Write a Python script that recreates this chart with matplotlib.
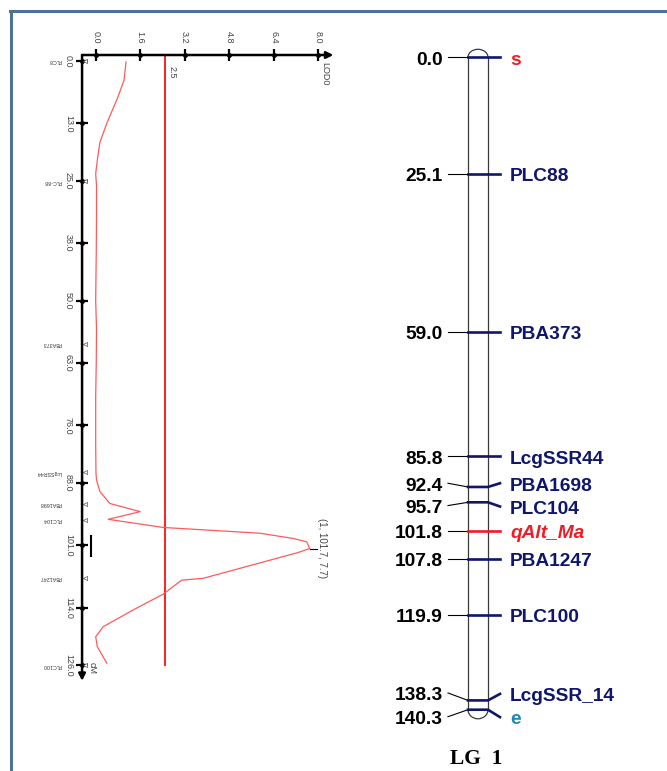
import numpy as np
import matplotlib
matplotlib.use('Agg')
import matplotlib.pyplot as plt
from matplotlib.patches import Arc
from matplotlib.lines import Line2D

plt.rcParams['font.family'] = ['Liberation Sans', 'DejaVu Sans']

# --- LOD scan (left panel) ---
scan_cm = [0.2, 4.0, 7.5, 13.0, 17.0, 20.6, 23.5, 26.0, 32.0, 40.0, 50.0, 56.0,
           63.0, 70.0, 80.0, 86.0, 87.4, 89.8, 92.3, 94.0, 95.6, 97.3, 98.5,
           99.6, 100.3, 101.7, 102.6, 104.5, 107.9, 108.3, 111.2, 114.5, 118.0,
           120.1, 122.2, 125.6]
scan_lod = [1.09, 1.02, 0.80, 0.40, 0.15, 0.06, 0.0, 0.03, 0.03, 0.02, 0.0, 0.03,
            0.02, 0.0, 0.0, 0.01, 0.03, 0.15, 0.51, 1.6, 0.45, 2.43, 5.91,
            7.11, 7.59, 7.7, 7.24, 6.03, 3.87, 3.09, 2.43, 1.35, 0.27,
            0.0, 0.06, 0.40]
threshold = 2.5
peak_cm = 101.7
peak_lod = 7.7
ci_cm = [99.1, 103.3]
cm_ticks = [0.0, 13.0, 25.0, 38.0, 50.0, 63.0, 76.0, 88.0, 101.0, 114.0, 126.0]
lod_ticks = [0.0, 1.6, 3.2, 4.8, 6.4, 8.0]
scan_markers = ['PLC8', 'PLC-88', 'PBA373', 'LcgSSR44', 'PBA1698', 'PLC104', 'PBA1247', 'PLC100']
scan_marker_cm = [0.0, 25.1, 59.0, 85.8, 92.4, 95.7, 107.8, 126.0]

# --- linkage group (right panel) ---
map_markers = ['s', 'PLC88', 'PBA373', 'LcgSSR44', 'PBA1698', 'PLC104', 'qAlt_Ma',
               'PBA1247', 'PLC100', 'LcgSSR_14', 'e']
map_cm = [0.0, 25.1, 59.0, 85.8, 92.4, 95.7, 101.8, 107.8, 119.9, 138.3, 140.3]
group_name = 'LG  1'

navy = '#0f166c'
red = '#ee1c24'
teal = '#1a8ab8'

fig = plt.figure(figsize=(6.67, 7.71), dpi=100)

# left: LOD profile, cM runs downwards
axL = fig.add_axes([0, 0, 340 / 667, 1])
axL.set_xlim(-3.442, 8.788)
axL.set_ylim(148.10, -12.724)
axL.axis('off')

ax_lod = -0.49   # where the cM axis sits
ax_cm = -1.25    # where the LOD axis sits
arrow = dict(arrowstyle='-|>', color='black', lw=1.8, mutation_scale=10,
             shrinkA=0, shrinkB=0)
axL.annotate('', xy=(8.55, ax_cm), xytext=(ax_lod, ax_cm), arrowprops=arrow)
axL.annotate('', xy=(ax_lod, 129.3), xytext=(ax_lod, ax_cm), arrowprops=arrow)

axL.plot(lod_ticks, [ax_cm] * len(lod_ticks), ls='none', marker='|', ms=8, mew=1.6, color='black')
axL.plot(lod_ticks, [ax_cm] * len(lod_ticks), ls='none', marker='o', ms=2.5, color='black')
axL.plot([ax_lod] * len(cm_ticks), cm_ticks, ls='none', marker='_', ms=8, mew=1.6, color='black')
axL.plot([ax_lod] * len(cm_ticks), cm_ticks, ls='none', marker='o', ms=2.5, color='black')

for t in lod_ticks:
    axL.text(t, -4.9, f'{t:.1f}', rotation=-90, fontsize=6.5, ha='center', va='center', color='#444444')
for t in cm_ticks:
    axL.text(-0.98, t, f'{t:.1f}', rotation=-90, fontsize=6.5, ha='center', va='center', color='#444444')

axL.text(8.25, 2.7, 'LOD0', rotation=-90, fontsize=6.5, ha='center', va='center', color='#444444')
axL.text(-0.13, 126.6, 'cM', rotation=-90, fontsize=6.5, ha='center', va='center', color='#444444')

# markers on the scan axis
axL.plot([-0.39] * len(scan_marker_cm), scan_marker_cm, ls='none', marker='<', ms=3,
         mfc='white', mec='#555555', mew=0.5)
for name, c in zip(scan_markers, scan_marker_cm):
    axL.text(-1.22, c, name, rotation=180, fontsize=3.8, ha='right', va='center', color='#333333')

# threshold and curve
axL.plot([threshold, threshold], [ax_cm, cm_ticks[-1]], color='#ff2020', lw=1.4)
axL.text(threshold + 0.23, 2.4, f'{threshold}', rotation=-90, fontsize=6.5, ha='center', va='center', color='#444444')
axL.plot(scan_lod, scan_cm, color='#ff5a5a', lw=0.9)

axL.plot([peak_lod, peak_lod + 0.25], [peak_cm, peak_cm], color='black', lw=0.8)
axL.text(peak_lod + 0.45, peak_cm, f'(1, {peak_cm}, {peak_lod})', rotation=-90, fontsize=7,
         ha='center', va='center', color='#444444')
axL.plot([-0.18, -0.18], ci_cm, color='black', lw=1.5)

# right: linkage map
axR = fig.add_axes([340 / 667, 0, 327 / 667, 1])
axR.set_xlim(340, 667)
axR.set_ylim(153.48, -12.32)
axR.axis('off')

bar_l, bar_r = 468, 488
mid = (bar_l + bar_r) / 2
top, bottom = map_cm[0], map_cm[-1]
axR.plot([bar_l, bar_l], [top, bottom], color='#3a3a3a', lw=0.9)
axR.plot([bar_r, bar_r], [top, bottom], color='#3a3a3a', lw=0.9)
axR.add_patch(Arc((mid, top), bar_r - bar_l, 3.44, theta1=180, theta2=360, color='#3a3a3a', lw=0.9))
axR.add_patch(Arc((mid, bottom), bar_r - bar_l, 3.9, theta1=0, theta2=180, color='#3a3a3a', lw=0.9))

left_shift = {'PBA1698': -0.8, 'PLC104': 0.7, 'LcgSSR_14': -1.6, 'e': 1.5}
right_shift = {'PBA1698': -0.8, 'PLC104': 0.9, 'LcgSSR_14': -1.4, 'e': 1.6}

for name, c in zip(map_markers, map_cm):
    lc = c + left_shift.get(name, 0)
    rc = c + right_shift.get(name, 0)
    line_col = red if name == 'qAlt_Ma' else navy
    txt_col = red if name in ('s', 'qAlt_Ma') else (teal if name == 'e' else navy)
    style = 'italic' if name == 'qAlt_Ma' else 'normal'
    axR.plot([448, bar_l], [lc, c], color='black', lw=0.8)
    axR.plot([bar_l, bar_r, 500], [c, c, rc], color=line_col, lw=1.9)
    axR.text(443, lc + 0.6, f'{c:.1f}', ha='right', va='center', fontsize=13.8,
             fontweight='bold', color='black')
    axR.text(510, rc + 0.6, name, ha='left', va='center', fontsize=13.8,
             fontweight='bold', color=txt_col, style=style)

axR.text(476, 150.9, group_name, ha='center', va='center', fontsize=15.5,
         fontweight='bold', family=['Liberation Serif', 'DejaVu Serif'])

# frame
fig.add_artist(Line2D([11 / 667, 11 / 667], [0, 1 - 11 / 771], transform=fig.transFigure,
                      color='#4d7294', lw=2.2))
fig.add_artist(Line2D([10 / 667, 1], [1 - 11 / 771, 1 - 11 / 771], transform=fig.transFigure,
                      color='#4d7294', lw=2.2))

fig.savefig('out.png', dpi=100)
